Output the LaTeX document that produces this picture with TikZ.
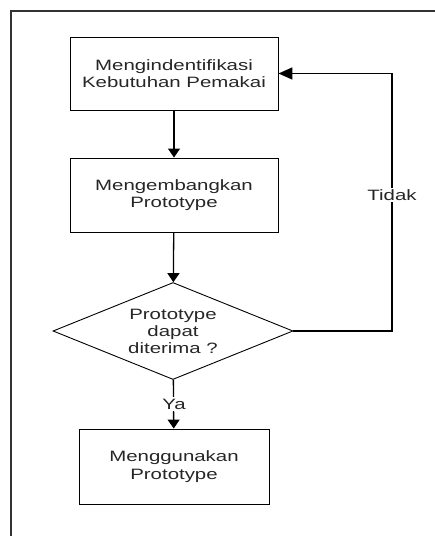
\documentclass[tikz,border=0pt]{standalone}
\usepackage{fontspec}
\setmainfont[FakeStretch=1.36]{Liberation Sans}
\usetikzlibrary{shapes.geometric,arrows.meta}

\begin{document}
\begin{tikzpicture}[x=1pt, y=-1pt,
  procbox/.style={draw, line width=0.9pt, minimum width=208pt, minimum height=73pt,
    inner sep=0pt, align=center, text=black!85, font=\fontsize{15}{17.5}\selectfont},
  decbox/.style={draw, diamond, line width=0.9pt, minimum width=240pt, minimum height=97pt,
    aspect=2.47, inner sep=0pt, align=center, text=black!85, font=\fontsize{15}{17}\selectfont},
  flow/.style={line width=1.3pt, -{Triangle[length=9pt, width=12pt]}},
  lbl/.style={fill=white, inner sep=1.5pt, text=black!85, font=\fontsize{15}{17}\selectfont}]
% Page size and outer frame
\useasboundingbox (0,0) rectangle (435,536);
\draw[line width=1.3pt, black!80] (11,536) -- (11,11) -- (435,11);

% Steps
\node[procbox] (identifikasi) at (174,73.5) {Mengindentifikasi\\Kebutuhan Pemakai};
\node[procbox, minimum height=74pt] (kembangkan) at (174,195) {Mengembangkan\\Prototype};
\node[decbox] (terima) at (173,331) {Prototype\\dapat\\diterima ?};
\node[procbox, minimum width=190pt, minimum height=75pt] (gunakan) at (174,466.5) {Menggunakan\\Prototype};

% Connectors
\draw[flow] (identifikasi) -- (kembangkan);
\draw[flow] (kembangkan) -- (terima);
\draw[flow] (terima) -- (gunakan);
\node[lbl] (ya) at (174,404) {Ya};

% Back to the first step
\coordinate (balik) at (392,331);
\draw[flow, line width=1.6pt, -{Triangle[length=14pt, width=12pt]}] (terima.east) -- (balik) -- (balik |- identifikasi.east) -- (identifikasi.east);
\node[lbl] (tidak) at (392,195) {Tidak};
\end{tikzpicture}
\end{document}
